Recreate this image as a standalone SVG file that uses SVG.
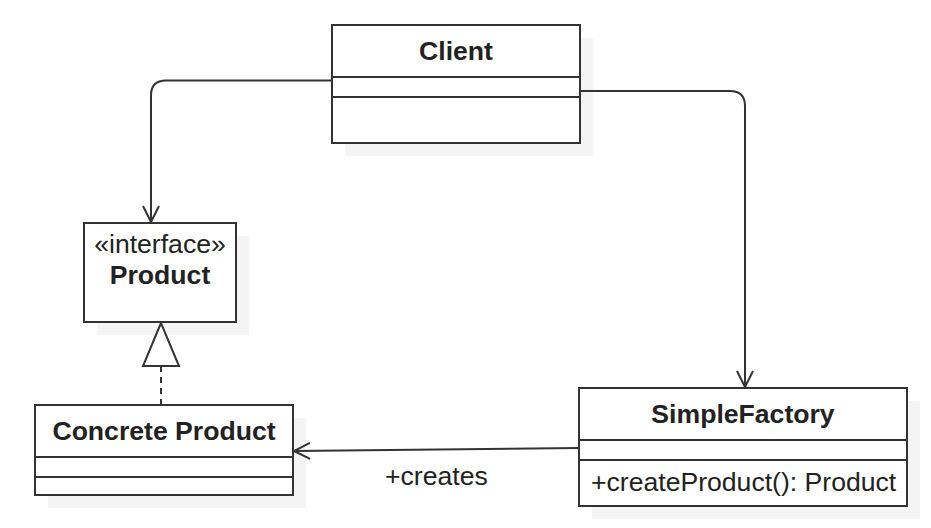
<svg xmlns="http://www.w3.org/2000/svg" width="931" height="528" viewBox="0 0 931 528">
<defs>
<style>
.shadow{fill:#f4f4f4;stroke:none}
.box{fill:#ffffff;stroke:#333333;stroke-width:2}
.div{stroke:#333333;stroke-width:2}
.t{font-family:"Liberation Sans",Arial,sans-serif;font-size:26.6px;fill:#222222}
.b{font-weight:bold;text-anchor:middle}
.edge{fill:none;stroke:#333333;stroke-width:2}
</style>
<marker id="open" viewBox="0 0 20 20" refX="18" refY="10" markerWidth="20" markerHeight="20" markerUnits="userSpaceOnUse" orient="auto">
<path d="M2,2 L18,10 L2,18" fill="none" stroke="#333333" stroke-width="2"/>
</marker>
</defs>
<rect width="931" height="528" fill="#ffffff"/>
<g id="client">
<rect class="shadow" x="345" y="38" width="248" height="118"/>
<rect class="box" x="332" y="25" width="248" height="118"/>
<line class="div" x1="332" y1="77" x2="580" y2="77"/>
<line class="div" x1="332" y1="97" x2="580" y2="97"/>
<text class="t b" x="456" y="60">Client</text>
</g>
<g id="product">
<rect class="shadow" x="97" y="236" width="152" height="99"/>
<rect class="box" x="84" y="223" width="152" height="99"/>
<text class="t" x="160" y="253" text-anchor="middle">«interface»</text>
<text class="t b" x="160" y="284">Product</text>
</g>
<g id="concrete-product">
<rect class="shadow" x="48" y="418" width="258" height="90"/>
<rect class="box" x="35" y="405" width="258" height="90"/>
<line class="div" x1="35" y1="457" x2="293" y2="457"/>
<line class="div" x1="35" y1="477" x2="293" y2="477"/>
<text class="t b" x="164" y="440">Concrete Product</text>
</g>
<g id="simple-factory">
<rect class="shadow" x="592" y="401" width="328" height="118"/>
<rect class="box" x="579" y="388" width="328" height="118"/>
<line class="div" x1="579" y1="440" x2="907" y2="440"/>
<line class="div" x1="579" y1="460" x2="907" y2="460"/>
<text class="t b" x="743" y="423">SimpleFactory</text>
<text class="t" x="591" y="491">+createProduct(): Product</text>
</g>
<g id="connectors">
<path class="edge" d="M332,80.5 H166 Q151,80.5 151,95.5 V222" marker-end="url(#open)"/>
<path class="edge" d="M580,91 H730 Q745,91 745,106 V387" marker-end="url(#open)"/>
<path class="edge" d="M579,448 L294,451" marker-end="url(#open)"/>
<line class="edge" x1="161" y1="366" x2="161" y2="405" stroke-dasharray="6,5"/>
<polygon points="161,323 143,366 179,366" fill="#ffffff" stroke="#333333" stroke-width="2"/>
<text class="t" x="385" y="485">+creates</text>
</g>
</svg>
